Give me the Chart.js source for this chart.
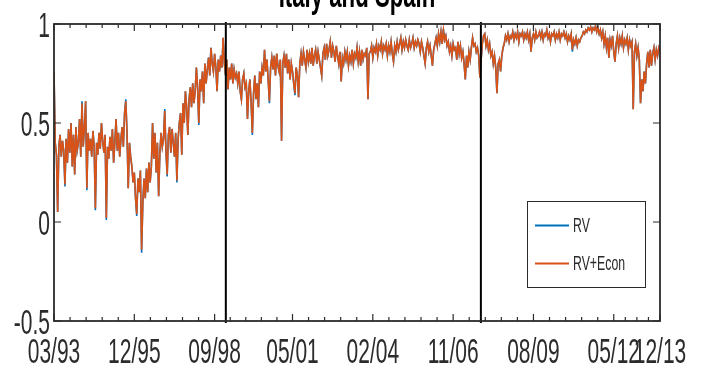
<!DOCTYPE html>
<html>
<head>
<meta charset="utf-8">
<title>Italy and Spain</title>
<script src="https://cdn.jsdelivr.net/npm/chart.js@4/dist/chart.umd.min.js"></script>
<style>
  html, body { margin: 0; padding: 0; background: #fff; }
  canvas { display: block; }
</style>
</head>
<body>
<canvas id="corrChart" width="701" height="372"></canvas>
<script>
/* Italy / Spain correlation, sampled every half month from 03/93 */

const STEP = 0.5; // months between samples

const rv = [
  0.76, 0.40, 0.34, 0.05, 0.38, 0.44, 0.33, 0.41, 0.36, 0.18,
  0.42, 0.30, 0.47, 0.35, 0.50, 0.28, 0.44, 0.24, 0.48, 0.36,
  0.40, 0.52, 0.33, 0.61, 0.38, 0.48, 0.61, 0.16, 0.45, 0.36,
  0.42, 0.33, 0.46, 0.38, 0.06, 0.40, 0.34, 0.45, 0.37, 0.50,
  0.41, 0.35, 0.44, 0.01, 0.38, 0.32, 0.43, 0.36, 0.47, 0.30,
  0.40, 0.52, 0.36, 0.45, 0.33, 0.42, 0.48, 0.38, 0.55, 0.62,
  0.45, 0.17, 0.40, 0.33, 0.28, 0.20, 0.25, 0.12, 0.03, 0.22,
  0.15, 0.26, -0.155, 0.10, 0.22, 0.12, 0.27, 0.15, 0.30, 0.20,
  0.28, 0.50, 0.32, 0.45, 0.25, 0.40, 0.13, 0.35, 0.45, 0.38,
  0.42, 0.57, 0.36, 0.23, 0.44, 0.48, 0.35, 0.47, 0.40, 0.33,
  0.45, 0.20, 0.42, 0.50, 0.55, 0.34, 0.60, 0.50, 0.66, 0.58,
  0.44, 0.62, 0.68, 0.58, 0.70, 0.60, 0.66, 0.78, 0.68, 0.49,
  0.72, 0.66, 0.76, 0.60, 0.80, 0.70, 0.77, 0.83, 0.74, 0.88,
  0.80, 0.76, 0.85, 0.78, 0.66, 0.82, 0.76, 0.84, 0.78, 0.93,
  0.80, 0.74, 0.82, 0.67, 0.78, 0.72, 0.80, 0.70, 0.77, 0.73,
  0.75, 0.70, 0.76, 0.66, 0.62, 0.72, 0.75, 0.68, 0.70, 0.52,
  0.66, 0.72, 0.60, 0.44, 0.65, 0.74, 0.62, 0.70, 0.58, 0.76,
  0.70, 0.78, 0.74, 0.87, 0.76, 0.82, 0.72, 0.60, 0.78, 0.83,
  0.77, 0.84, 0.74, 0.85, 0.79, 0.76, 0.82, 0.41, 0.80, 0.84,
  0.78, 0.85, 0.75, 0.82, 0.72, 0.80, 0.76, 0.70, 0.64, 0.78,
  0.74, 0.63, 0.80, 0.85, 0.79, 0.86, 0.82, 0.78, 0.87, 0.81,
  0.85, 0.80, 0.88, 0.79, 0.84, 0.87, 0.80, 0.86, 0.82, 0.78,
  0.74, 0.85, 0.88, 0.82, 0.90, 0.84, 0.87, 0.91, 0.83, 0.89,
  0.86, 0.81, 0.89, 0.84, 0.80, 0.86, 0.71, 0.83, 0.80, 0.86,
  0.82, 0.86, 0.79, 0.84, 0.81, 0.87, 0.80, 0.85, 0.83, 0.88,
  0.81, 0.86, 0.79, 0.87, 0.82, 0.85, 0.84, 0.88, 0.62, 0.85,
  0.86, 0.89, 0.83, 0.88, 0.86, 0.90, 0.84, 0.89, 0.87, 0.91,
  0.85, 0.89, 0.87, 0.90, 0.84, 0.89, 0.86, 0.91, 0.85, 0.81,
  0.89, 0.86, 0.91, 0.87, 0.90, 0.93, 0.87, 0.91, 0.88, 0.92,
  0.89, 0.87, 0.92, 0.88, 0.90, 0.93, 0.88, 0.91, 0.89, 0.92,
  0.90, 0.86, 0.91, 0.88, 0.84, 0.80, 0.88, 0.91, 0.86, 0.89,
  0.84, 0.79, 0.87, 0.90, 0.93, 0.89, 0.95, 0.91, 0.96, 0.90,
  0.975, 0.92, 0.94, 0.89, 0.91, 0.86, 0.89, 0.84, 0.90, 0.87,
  0.88, 0.82, 0.91, 0.85, 0.89, 0.83, 0.86, 0.80, 0.72, 0.84,
  0.78, 0.86, 0.82, 0.88, 0.93, 0.89, 0.90, 0.86, 0.88, 0.84,
  0.73, 0.82, 0.90, 0.94, 0.95, 0.89, 0.92, 0.87, 0.90, 0.84,
  0.86, 0.80, 0.84, 0.78, 0.65, 0.80, 0.82, 0.76, 0.84, 0.88,
  0.90, 0.94, 0.92, 0.95, 0.91, 0.94, 0.93, 0.96, 0.92, 0.95,
  0.93, 0.96, 0.91, 0.95, 0.94, 0.96, 0.92, 0.95, 0.93, 0.96,
  0.92, 0.95, 0.86, 0.93, 0.95, 0.92, 0.96, 0.93, 0.94, 0.96,
  0.93, 0.96, 0.92, 0.95, 0.94, 0.97, 0.93, 0.95, 0.91, 0.95,
  0.94, 0.96, 0.92, 0.95, 0.93, 0.96, 0.92, 0.95, 0.94, 0.96,
  0.93, 0.95, 0.91, 0.94, 0.92, 0.95, 0.86, 0.92, 0.90, 0.93,
  0.89, 0.92, 0.91, 0.93, 0.94, 0.96, 0.95, 0.97, 0.96, 0.98,
  0.97, 0.985, 0.96, 0.98, 0.97, 0.99, 0.96, 0.98, 0.95, 0.97,
  0.93, 0.96, 0.90, 0.94, 0.88, 0.93, 0.83, 0.92, 0.89, 0.94,
  0.86, 0.81, 0.90, 0.94, 0.88, 0.93, 0.90, 0.94, 0.88, 0.92,
  0.90, 0.93, 0.87, 0.92, 0.89, 0.91, 0.57, 0.86, 0.90, 0.84,
  0.88, 0.82, 0.60, 0.72, 0.66, 0.76, 0.70, 0.80, 0.86, 0.78,
  0.87, 0.79, 0.85, 0.88, 0.82, 0.87, 0.84, 0.88, 0.86
];

const rvEcon = [
  0.76, 0.40, 0.34, 0.05, 0.38, 0.44, 0.33, 0.41, 0.36, 0.19,
  0.42, 0.30, 0.47, 0.35, 0.50, 0.28, 0.44, 0.24, 0.48, 0.36,
  0.40, 0.52, 0.33, 0.60, 0.38, 0.48, 0.61, 0.17, 0.45, 0.36,
  0.42, 0.33, 0.46, 0.38, 0.07, 0.40, 0.34, 0.45, 0.37, 0.50,
  0.41, 0.35, 0.44, 0.02, 0.38, 0.32, 0.43, 0.36, 0.47, 0.30,
  0.40, 0.52, 0.36, 0.45, 0.33, 0.42, 0.48, 0.38, 0.55, 0.61,
  0.45, 0.17, 0.40, 0.33, 0.28, 0.20, 0.25, 0.12, 0.04, 0.22,
  0.15, 0.26, -0.14, 0.10, 0.22, 0.12, 0.27, 0.15, 0.30, 0.20,
  0.28, 0.50, 0.32, 0.45, 0.25, 0.40, 0.13, 0.35, 0.45, 0.38,
  0.42, 0.56, 0.36, 0.24, 0.44, 0.48, 0.35, 0.47, 0.40, 0.33,
  0.45, 0.21, 0.42, 0.50, 0.55, 0.34, 0.60, 0.50, 0.66, 0.58,
  0.44, 0.62, 0.68, 0.58, 0.70, 0.60, 0.66, 0.78, 0.68, 0.50,
  0.72, 0.66, 0.76, 0.60, 0.80, 0.70, 0.77, 0.83, 0.74, 0.88,
  0.80, 0.76, 0.85, 0.78, 0.66, 0.82, 0.76, 0.84, 0.78, 0.93,
  0.80, 0.74, 0.82, 0.67, 0.78, 0.72, 0.80, 0.70, 0.77, 0.73,
  0.75, 0.70, 0.76, 0.66, 0.62, 0.72, 0.75, 0.68, 0.70, 0.52,
  0.66, 0.72, 0.60, 0.45, 0.65, 0.74, 0.62, 0.70, 0.58, 0.76,
  0.70, 0.78, 0.74, 0.87, 0.76, 0.82, 0.72, 0.61, 0.78, 0.83,
  0.77, 0.84, 0.74, 0.85, 0.79, 0.76, 0.82, 0.41, 0.80, 0.84,
  0.78, 0.85, 0.75, 0.82, 0.72, 0.80, 0.76, 0.70, 0.65, 0.78,
  0.74, 0.63, 0.80, 0.85, 0.79, 0.86, 0.82, 0.78, 0.87, 0.81,
  0.85, 0.80, 0.88, 0.79, 0.84, 0.87, 0.80, 0.86, 0.82, 0.78,
  0.74, 0.85, 0.88, 0.82, 0.90, 0.84, 0.87, 0.91, 0.83, 0.89,
  0.86, 0.81, 0.89, 0.84, 0.80, 0.86, 0.71, 0.83, 0.80, 0.86,
  0.82, 0.86, 0.79, 0.84, 0.81, 0.87, 0.80, 0.85, 0.83, 0.88,
  0.81, 0.86, 0.79, 0.87, 0.82, 0.85, 0.84, 0.88, 0.62, 0.85,
  0.86, 0.89, 0.83, 0.88, 0.86, 0.90, 0.84, 0.89, 0.87, 0.91,
  0.85, 0.89, 0.87, 0.90, 0.84, 0.89, 0.86, 0.91, 0.85, 0.81,
  0.89, 0.86, 0.91, 0.87, 0.90, 0.93, 0.87, 0.91, 0.88, 0.92,
  0.89, 0.87, 0.92, 0.88, 0.90, 0.93, 0.88, 0.91, 0.89, 0.92,
  0.90, 0.86, 0.91, 0.88, 0.84, 0.80, 0.88, 0.91, 0.86, 0.89,
  0.84, 0.79, 0.87, 0.90, 0.93, 0.89, 0.95, 0.91, 0.96, 0.90,
  0.97, 0.92, 0.94, 0.89, 0.91, 0.86, 0.89, 0.84, 0.90, 0.87,
  0.88, 0.82, 0.91, 0.85, 0.89, 0.83, 0.86, 0.80, 0.72, 0.84,
  0.78, 0.86, 0.82, 0.88, 0.93, 0.89, 0.90, 0.86, 0.88, 0.84,
  0.73, 0.82, 0.90, 0.94, 0.95, 0.89, 0.92, 0.87, 0.90, 0.84,
  0.86, 0.80, 0.84, 0.78, 0.65, 0.80, 0.82, 0.76, 0.84, 0.88,
  0.90, 0.94, 0.92, 0.95, 0.91, 0.94, 0.93, 0.96, 0.92, 0.95,
  0.93, 0.96, 0.91, 0.95, 0.94, 0.96, 0.92, 0.95, 0.93, 0.96,
  0.92, 0.95, 0.86, 0.93, 0.95, 0.92, 0.96, 0.93, 0.94, 0.96,
  0.93, 0.96, 0.92, 0.95, 0.94, 0.97, 0.93, 0.95, 0.91, 0.95,
  0.94, 0.96, 0.92, 0.95, 0.93, 0.96, 0.92, 0.95, 0.94, 0.96,
  0.93, 0.95, 0.91, 0.94, 0.92, 0.95, 0.87, 0.92, 0.90, 0.93,
  0.89, 0.92, 0.91, 0.93, 0.94, 0.96, 0.95, 0.97, 0.96, 0.98,
  0.97, 0.985, 0.96, 0.98, 0.97, 0.99, 0.96, 0.98, 0.95, 0.97,
  0.93, 0.96, 0.90, 0.94, 0.88, 0.93, 0.83, 0.92, 0.89, 0.94,
  0.86, 0.81, 0.90, 0.94, 0.88, 0.93, 0.90, 0.94, 0.88, 0.92,
  0.90, 0.93, 0.87, 0.92, 0.89, 0.91, 0.57, 0.86, 0.90, 0.84,
  0.88, 0.82, 0.60, 0.72, 0.66, 0.76, 0.70, 0.80, 0.86, 0.78,
  0.87, 0.79, 0.85, 0.88, 0.82, 0.87, 0.84, 0.88, 0.86
];

// x ticks, in months after 03/93
const tickMonths = [0, 33, 66, 98, 131, 164, 197, 230, 249];
const tickLabels = ['03/93', '12/95', '09/98', '05/01', '02/04', '11/06', '08/09', '05/12', '12/13'];
const minorSplits = [5, 5, 5, 5, 5, 5, 5, 4];
const yTicks = [-0.5, 0, 0.5, 1];
const yTickLabels = ['-0.5', '0', '0.5', '1'];
// regime breaks (01/99 and 10/07)
const breakMonths = [70.6, 175.4];

const FONT = '"Liberation Sans", Helvetica, Arial, sans-serif';
const AXIS = '#2b2b2b';
const SQUEEZE = 0.6;

function squeezedText(ctx, str, x, y, font, align) {
  ctx.save();
  ctx.font = font;
  ctx.textAlign = align;
  ctx.textBaseline = 'alphabetic';
  ctx.translate(x, y);
  ctx.scale(SQUEEZE, 1);
  ctx.fillText(str, 0, 0);
  ctx.restore();
}

const toPoints = arr => arr.map((v, i) => ({ x: i * STEP, y: v }));

const matlabAxes = {
  id: 'matlabAxes',
  beforeDraw(chart) {
    const ctx = chart.ctx;
    ctx.save();
    ctx.fillStyle = '#fff';
    ctx.fillRect(0, 0, chart.width, chart.height);
    ctx.restore();
  },
  afterDatasetsDraw(chart) {
    const { ctx, chartArea: a, scales: { x, y } } = chart;
    ctx.save();

    // vertical break lines
    ctx.strokeStyle = '#000';
    ctx.lineWidth = 2;
    breakMonths.forEach(m => {
      const px = x.getPixelForValue(m);
      ctx.beginPath();
      ctx.moveTo(px, a.top - 2);
      ctx.lineTo(px, a.bottom + 2);
      ctx.stroke();
    });

    // ticks, pointing inwards, top+bottom and left+right
    ctx.strokeStyle = AXIS;
    ctx.lineWidth = 1.2;
    const xTick = (m, len) => {
      const px = x.getPixelForValue(m);
      ctx.beginPath();
      ctx.moveTo(px, a.bottom); ctx.lineTo(px, a.bottom - len);
      ctx.moveTo(px, a.top); ctx.lineTo(px, a.top + len);
      ctx.stroke();
    };
    tickMonths.forEach(m => xTick(m, 7));
    for (let i = 0; i < tickMonths.length - 1; i++) {
      const step = (tickMonths[i + 1] - tickMonths[i]) / minorSplits[i];
      for (let k = 1; k < minorSplits[i]; k++) xTick(tickMonths[i] + k * step, 4);
    }
    yTicks.forEach(v => {
      const py = y.getPixelForValue(v);
      ctx.beginPath();
      ctx.moveTo(a.left, py); ctx.lineTo(a.left + 7, py);
      ctx.moveTo(a.right, py); ctx.lineTo(a.right - 7, py);
      ctx.stroke();
    });

    // box
    ctx.lineWidth = 1.8;
    ctx.strokeRect(a.left, a.top, a.right - a.left, a.bottom - a.top);

    // tick labels
    ctx.fillStyle = AXIS;
    tickMonths.forEach((m, i) => {
      squeezedText(ctx, tickLabels[i], x.getPixelForValue(m), 363, '35px ' + FONT, 'center');
    });
    yTicks.forEach((v, i) => {
      squeezedText(ctx, yTickLabels[i], a.left - 4, y.getPixelForValue(v) + 12.5, '35px ' + FONT, 'right');
    });

    // legend
    const lx = 527.5, ly = 201.5, lw = 118, lh = 86;
    ctx.fillStyle = '#fff';
    ctx.fillRect(lx, ly, lw, lh);
    ctx.strokeStyle = AXIS;
    ctx.lineWidth = 1;
    ctx.strokeRect(lx, ly, lw, lh);
    const rows = [225.5, 263.5];
    chart.data.datasets.forEach((ds, i) => {
      ctx.strokeStyle = ds.borderColor;
      ctx.lineWidth = 2;
      ctx.beginPath();
      ctx.moveTo(535, rows[i]); ctx.lineTo(569, rows[i]);
      ctx.stroke();
      ctx.fillStyle = AXIS;
      squeezedText(ctx, ds.label, 573, rows[i] + 6.5, '20.5px ' + FONT, 'left');
    });

    // title, top edge runs off the canvas
    ctx.fillStyle = '#000';
    squeezedText(ctx, 'Italy and Spain', (a.left + a.right) / 2, 7, 'bold 37px ' + FONT, 'center');

    ctx.restore();
  }
};

new Chart(document.getElementById('corrChart'), {
  type: 'line',
  data: {
    datasets: [
      {
        label: 'RV',
        data: toPoints(rv),
        borderColor: '#0072BD',
        borderWidth: 1.6,
        pointRadius: 0,
        tension: 0,
        order: 1
      },
      {
        label: 'RV+Econ',
        data: toPoints(rvEcon),
        borderColor: '#D95319',
        borderWidth: 1.6,
        pointRadius: 0,
        tension: 0,
        order: 0
      }
    ]
  },
  options: {
    responsive: false,
    animation: false,
    layout: { padding: { left: 54, right: 41, top: 24, bottom: 51 } },
    plugins: { legend: { display: false }, tooltip: { enabled: false } },
    scales: {
      x: { type: 'linear', display: false, min: 0, max: 249 },
      y: { display: false, min: -0.5, max: 1 }
    }
  },
  plugins: [matlabAxes]
});
</script>
</body>
</html>
